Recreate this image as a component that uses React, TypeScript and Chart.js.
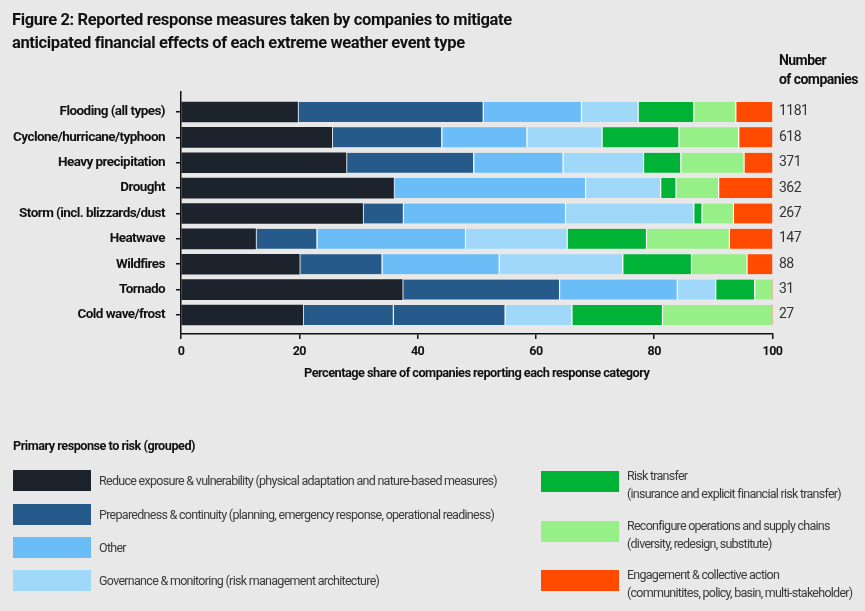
import React, { useEffect, useRef } from 'react';
import { Chart, registerables } from 'chart.js';

Chart.register(...registerables);

// ---------- data ----------
const categories = [
  'Flooding (all types)',
  'Cyclone/hurricane/typhoon',
  'Heavy precipitation',
  'Drought',
  'Storm (incl. blizzards/dust',
  'Heatwave',
  'Wildfires',
  'Tornado',
  'Cold wave/frost',
];
const companyCounts = ['1181', '618', '371', '362', '267', '147', '88', '31', '27'];

const seriesNames = [
  'Reduce exposure & vulnerability',
  'Preparedness & continuity',
  'Other',
  'Governance & monitoring',
  'Risk transfer',
  'Reconfigure operations and supply chains',
  'Engagement & collective action',
];
const seriesNotes = [
  '(physical adaptation and nature-based measures)',
  '(planning, emergency response, operational readiness)',
  '',
  '(risk management architecture)',
  '(insurance and explicit financial risk transfer)',
  '(diversity, redesign, substitute)',
  '(communitites, policy, basin, multi-stakeholder)',
];
const seriesColors = ['#1c232d', '#255a8a', '#6bbdf8', '#a0d8fa', '#00b336', '#97f087', '#ff4a00'];

const reduceExposure = [19.7, 25.5, 27.9, 35.9, 30.7, 12.6, 20.0, 37.4, 20.6];
const preparedness = [31.3, 18.5, 21.5, 0, 6.8, 10.3, 13.9, 26.5, 15.2];
const other = [16.6, 14.4, 15.1, 32.4, 27.4, 25.1, 19.8, 19.9, 18.9];
const governance = [9.6, 12.7, 13.6, 12.7, 21.7, 17.2, 20.9, 6.5, 11.3];
const riskTransfer = [9.4, 13.0, 6.3, 2.6, 1.4, 13.4, 11.6, 6.6, 15.3];
const reconfigure = [7.1, 10.1, 10.7, 7.2, 5.3, 14.0, 9.4, 3.1, 18.7];
const engagement = [6.3, 5.8, 4.9, 9.2, 6.7, 7.4, 4.4, 0, 0];

// in the reference, the "Other" segment of these rows is drawn in the preparedness colour
const otherShownAsPreparedness = ['Cold wave/frost'];

const xTicks = [0, 20, 40, 60, 80, 100];
const titleLines = [
  'Figure 2: Reported response measures taken by companies to mitigate',
  'anticipated financial effects of each extreme weather event type',
];
const xAxisTitle = 'Percentage share of companies reporting each response category';
const countsHeader = ['Number', 'of companies'];
const legendTitle = 'Primary response to risk (grouped)';

// ---------- styles ----------
const FONT = 'Roboto, "Noto Sans", "DejaVu Sans", sans-serif';
const BG = '#e8e8e8';

export default function App() {
  const ref = useRef<HTMLCanvasElement>(null);

  useEffect(() => {
    const canvas = ref.current;
    if (!canvas) return;
    const series = [reduceExposure, preparedness, other, governance, riskTransfer, reconfigure, engagement];

    const spacingPlugin = {
      id: 'letterSpacing',
      beforeInit(c: any) { c.ctx.letterSpacing = '-0.55px'; },
      beforeLayout(c: any) { c.ctx.letterSpacing = '-0.55px'; },
      beforeDraw(c: any) { c.ctx.letterSpacing = '-0.55px'; },
    };
    const place = (s: any) => {
      s._startValue = -0.788;
      s._valueRange = 9.537;
    };

    const chart = new Chart(canvas, {
      type: 'bar',
      data: {
        labels: categories,
        datasets: series.map((d, i) => ({
          label: seriesNames[i],
          data: d,
          backgroundColor:
            i === 2
              ? (ctx: any) =>
                  otherShownAsPreparedness.includes(categories[ctx.dataIndex]) ? seriesColors[1] : seriesColors[2]
              : seriesColors[i],
          borderColor: '#ffffff',
          borderWidth: i === 0 ? 0 : { left: 1.5, right: 0, top: 0, bottom: 0 },
          borderSkipped: false,
          barThickness: 20,
        })),
      },
      options: {
        indexAxis: 'y',
        animation: false,
        responsive: false,
        maintainAspectRatio: false,
        layout: { padding: { top: 92, bottom: 230, left: 0, right: 0 } },
        plugins: {
          legend: { display: false },
          tooltip: { enabled: false },
        },
        scales: {
          x: {
            stacked: true,
            min: 0,
            max: 100,
            afterBuildTicks: (s: any) => {
              s.ticks = xTicks.map((v) => ({ value: v }));
            },
            ticks: {
              color: '#111111',
              font: { family: FONT, size: 12.5, weight: 'bold' },
              padding: 5,
            },
            grid: { drawOnChartArea: false, drawTicks: true, tickLength: 5, color: '#111111', lineWidth: 1.5 },
            border: { color: '#111111', width: 1.5 },
            title: {
              display: true,
              text: xAxisTitle,
              color: '#111111',
              font: { family: FONT, size: 12.8, weight: 'bold' },
              padding: 0,
            },
            afterFit: (s: any) => {
              s.height = 47;
            },
          },
          y: {
            stacked: true,
            offset: true,
            afterBuildTicks: place,
            ticks: {
              autoSkip: false,
              color: '#111111',
              font: { family: FONT, size: 13.5, weight: 'bold' },
              padding: 11,
            },
            grid: {
              drawOnChartArea: false,
              drawTicks: true,
              tickLength: 5,
              color: '#111111',
              lineWidth: 1.5,
              offset: false,
            },
            border: { color: '#111111', width: 1.5 },
            afterFit: (s: any) => {
              s.width = 181;
            },
          },
          y2: {
            type: 'category',
            position: 'right',
            labels: companyCounts,
            afterBuildTicks: place,
            grid: { display: false, drawTicks: false },
            border: { display: false },
            ticks: {
              autoSkip: false,
              color: '#333333',
              font: { family: FONT, size: 14 },
              padding: 6.5,
            },
            afterFit: (s: any) => {
              s.width = 92.5;
            },
          },
        },
      } as any,
      plugins: [spacingPlugin],
    });
    return () => chart.destroy();
  }, []);

  const leftItems = [0, 1, 2, 3];
  const rightItems = [4, 5, 6];
  const leftTops = [470, 503.5, 537, 570];
  const rightTops = [471, 521, 570];

  return (
    <div
      style={{
        position: 'fixed',
        left: 0,
        top: 0,
        width: 865,
        height: 611,
        background: BG,
        fontFamily: FONT,
        overflow: 'hidden',
      }}
    >
      <canvas ref={ref} width={865} height={611} style={{ position: 'absolute', left: 0, top: 0, width: 865, height: 611 }} />

      <div
        style={{
          position: 'absolute',
          left: 12,
          top: 7.7,
          fontSize: 16.5,
          lineHeight: '23.3px',
          fontWeight: 700,
          color: '#111111',
          letterSpacing: '-0.36px',
          whiteSpace: 'nowrap',
        }}
      >
        {titleLines.map((t) => (
          <div key={t}>{t}</div>
        ))}
      </div>

      <div
        style={{
          position: 'absolute',
          left: 779,
          top: 51,
          fontSize: 14,
          lineHeight: '19.3px',
          fontWeight: 700,
          color: '#111111',
          letterSpacing: '-0.55px',
          whiteSpace: 'nowrap',
        }}
      >
        {countsHeader.map((t) => (
          <div key={t}>{t}</div>
        ))}
      </div>

      <div
        style={{
          position: 'absolute',
          left: 13,
          top: 436,
          fontSize: 12.7,
          lineHeight: '20px',
          fontWeight: 700,
          color: '#111111',
          letterSpacing: '-0.5px',
          whiteSpace: 'nowrap',
        }}
      >
        {legendTitle}
      </div>

      {leftItems.map((i, k) => (
        <React.Fragment key={i}>
          <div
            style={{
              position: 'absolute',
              left: 13,
              top: leftTops[k],
              width: 78,
              height: 21,
              background: seriesColors[i],
            }}
          />
          <div
            style={{
              position: 'absolute',
              left: 99,
              top: leftTops[k],
              height: 21,
              lineHeight: '21px',
              fontSize: 12.5,
              color: '#3a3a3a',
              letterSpacing: '-0.71px',
              whiteSpace: 'nowrap',
            }}
          >
            {seriesNotes[i] ? `${seriesNames[i]} ${seriesNotes[i]}` : seriesNames[i]}
          </div>
        </React.Fragment>
      ))}

      {rightItems.map((i, k) => (
        <React.Fragment key={i}>
          <div
            style={{
              position: 'absolute',
              left: 541,
              top: rightTops[k],
              width: 78,
              height: 21,
              background: seriesColors[i],
            }}
          />
          <div
            style={{
              position: 'absolute',
              left: 627,
              top: rightTops[k] - 4.5,
              lineHeight: '18.5px',
              fontSize: 12.5,
              color: '#3a3a3a',
              letterSpacing: '-0.74px',
              whiteSpace: 'nowrap',
            }}
          >
            <div>{seriesNames[i]}</div>
            <div>{seriesNotes[i]}</div>
          </div>
        </React.Fragment>
      ))}
    </div>
  );
}
